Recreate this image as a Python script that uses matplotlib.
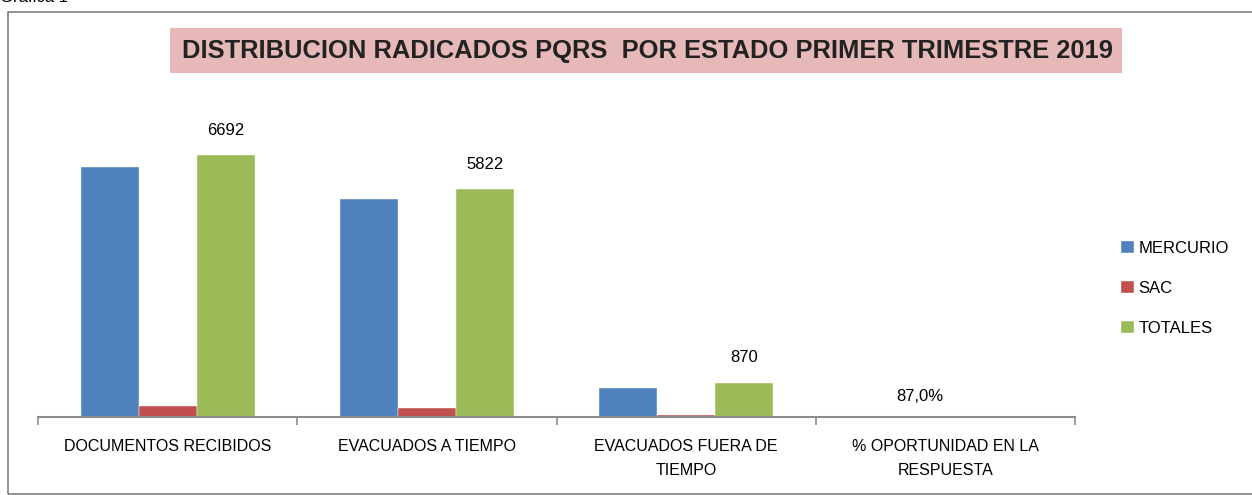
import matplotlib
matplotlib.use("Agg")
import matplotlib.pyplot as plt
import numpy as np
from matplotlib.patches import Rectangle

categories = ["DOCUMENTOS RECIBIDOS", "EVACUADOS A TIEMPO", "EVACUADOS FUERA DE\nTIEMPO", "% OPORTUNIDAD EN LA\nRESPUESTA"]
mercurio = [6380, 5560, 745, 0.85]
sac = [290, 235, 55, 0.02]
totales = [6692, 5822, 870, 0.87]
total_labels = ["6692", "5822", "870", "87,0%"]
series_names = ["MERCURIO", "SAC", "TOTALES"]
colors = ["#4F81BD", "#C0504D", "#9BBB59"]

plt.rcParams['font.family'] = ['Liberation Sans', 'DejaVu Sans']

W, H = 1252, 495
fig = plt.figure(figsize=(W / 100, H / 100), dpi=100)

def fx(px):
    return px / W

def fy(py):
    return 1 - py / H

# outer frame
fig.add_artist(Rectangle((fx(8), fy(494)), fx(1252 - 8 + 5), fy(12) - fy(494), transform=fig.transFigure,
                         fill=False, edgecolor="#7f7f7f", linewidth=1.2))
fig.text(fx(0), fy(5), "Grafica 1", fontsize=12, va="bottom", ha="left", color="#000000")

# title box
fig.add_artist(Rectangle((fx(170), fy(73)), fx(1122 - 170), fy(28) - fy(73), transform=fig.transFigure,
                         facecolor="#E6B9B8", edgecolor="none"))
fig.text(fx(647), fy(51), "DISTRIBUCION RADICADOS PQRS  POR ESTADO PRIMER TRIMESTRE 2019",
         fontsize=18.4, fontweight="bold", ha="center", va="center", color="#222222")

left, right, bottom, top = 38, 1075, 417, 104
ax = fig.add_axes([fx(left), fy(bottom), fx(right - left), fy(top) - fy(bottom)])

x = np.arange(len(categories))
bw = 0.224
for i, (vals, c, n) in enumerate(zip([mercurio, sac, totales], colors, series_names)):
    ax.bar(x + (i - 1) * bw, vals, width=bw, color=c, label=n, edgecolor="white", linewidth=0.3)

for i, (v, lab) in enumerate(zip(totales, total_labels)):
    if i < 3:
        ax.annotate(lab, (x[i] + bw, v), xytext=(0, 18), textcoords="offset points",
                    ha="center", va="center", fontsize=12)
    else:
        ax.annotate(lab, (x[i] - 0.1, v), xytext=(0, 15), textcoords="offset points",
                    ha="center", va="center", fontsize=12)

ax.set_xlim(-0.5, len(categories) - 0.5)
ax.set_ylim(0, 8000)
ax.set_yticks([])
for s in ["top", "right", "left"]:
    ax.spines[s].set_visible(False)
ax.spines["bottom"].set_color("#8c8c8c")
ax.spines["bottom"].set_linewidth(1.5)

ax.set_xticks(np.arange(-0.5, len(categories)), minor=False)
ax.set_xticklabels([])
ax.tick_params(axis="x", length=6, color="#8c8c8c", width=1.2)
ax.set_xticks(x, minor=True)
ax.set_xticklabels(categories, minor=True, fontsize=11.5, linespacing=1.75)
ax.tick_params(axis="x", which="minor", length=0, pad=16)
for t in ax.get_xticklabels(minor=True):
    t.set_va("top")

handles, labels = ax.get_legend_handles_labels()
fig.legend(handles, labels, loc="upper left", bbox_to_anchor=(fx(1106), fy(226)), frameon=False,
           fontsize=12, handlelength=0.75, handleheight=0.75, handletextpad=0.3, labelspacing=1.5)

fig.savefig("out.png", dpi=100)
